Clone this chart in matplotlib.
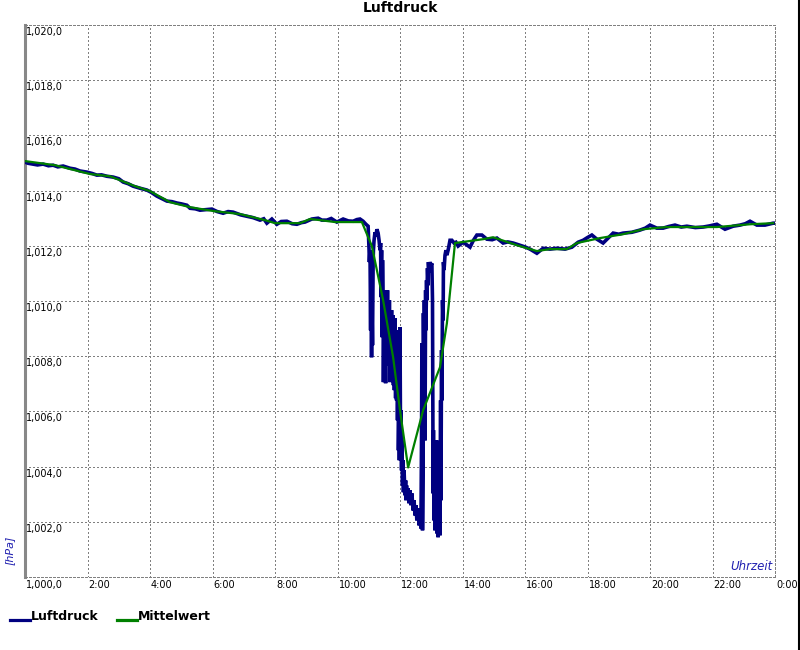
import matplotlib
matplotlib.use("Agg")
import matplotlib.pyplot as plt
import matplotlib.transforms as mtransforms
from matplotlib.lines import Line2D

# ---------------------------------------------------------------------
# data (hours since midnight, hPa)
# ---------------------------------------------------------------------
# morning, fairly calm
luft_t_am = [0.00, 0.10, 0.26, 0.40, 0.58, 0.75, 0.90, 1.05, 1.22, 1.44, 1.60, 1.76,
             1.98, 2.15, 2.30, 2.45, 2.62, 2.82, 3.00, 3.14, 3.30, 3.46, 3.70, 3.90,
             4.05, 4.22, 4.40, 4.54, 4.70, 4.86, 5.00, 5.18, 5.28, 5.45, 5.60, 5.80,
             5.98, 6.15, 6.34, 6.50, 6.66, 6.90, 7.10, 7.30, 7.52, 7.64, 7.74, 7.90,
             8.06, 8.20, 8.38, 8.55, 8.70, 8.85, 8.96, 9.18, 9.38, 9.50, 9.66, 9.80,
             9.98, 10.18, 10.35, 10.50, 10.62, 10.72, 10.82, 10.91]
luft_p_am = [1015.03, 1014.99, 1014.96, 1014.93, 1014.96, 1014.90, 1014.92, 1014.86,
             1014.89, 1014.81, 1014.78, 1014.71, 1014.67, 1014.62, 1014.56, 1014.57,
             1014.52, 1014.49, 1014.43, 1014.31, 1014.25, 1014.16, 1014.08, 1014.02,
             1013.93, 1013.80, 1013.70, 1013.62, 1013.60, 1013.55, 1013.52, 1013.47,
             1013.36, 1013.34, 1013.29, 1013.31, 1013.33, 1013.24, 1013.18, 1013.24,
             1013.22, 1013.12, 1013.07, 1013.02, 1012.93, 1012.98, 1012.82, 1012.97,
             1012.78, 1012.88, 1012.89, 1012.80, 1012.78, 1012.84, 1012.86, 1012.97,
             1013.00, 1012.93, 1012.93, 1012.99, 1012.86, 1012.97, 1012.90, 1012.89,
             1012.95, 1012.97, 1012.89, 1012.78]

# the storm dip around noon
luft_t_dip = [10.98, 11.01, 11.02, 11.04, 11.06, 11.07, 11.09, 11.10, 11.12, 11.14,
              11.15, 11.17, 11.20, 11.23, 11.26, 11.30, 11.33, 11.36, 11.38, 11.39,
              11.41, 11.42, 11.44, 11.46, 11.47, 11.49, 11.50, 11.52, 11.54, 11.55,
              11.57, 11.58, 11.60, 11.62, 11.63, 11.65, 11.66, 11.68, 11.70, 11.71,
              11.73, 11.74, 11.76, 11.78, 11.79, 11.81, 11.82, 11.84, 11.86, 11.87,
              11.89, 11.90, 11.92, 11.94, 11.95, 11.97, 11.98, 12.00, 12.02, 12.03,
              12.05, 12.06, 12.08, 12.10, 12.11, 12.13, 12.16, 12.18, 12.19, 12.21,
              12.22, 12.26, 12.29, 12.32, 12.35, 12.38, 12.42, 12.45, 12.48, 12.51,
              12.54, 12.58, 12.61, 12.64, 12.67, 12.69, 12.70, 12.72, 12.74, 12.75,
              12.77, 12.78, 12.80, 12.82, 12.83, 12.85, 12.86, 12.88, 12.90, 12.91,
              12.93, 12.96, 12.99, 13.02, 13.04, 13.06, 13.07, 13.09, 13.10, 13.12,
              13.14, 13.15, 13.17, 13.18, 13.20, 13.22, 13.23, 13.25, 13.26, 13.28,
              13.30, 13.31, 13.33, 13.34, 13.36, 13.38, 13.39, 13.41, 13.44, 13.47,
              13.50, 13.54, 13.57, 13.60, 13.66, 13.73, 13.79, 13.86]
luft_p_dip = [1012.71, 1011.84, 1011.41, 1011.84, 1008.94, 1011.41, 1007.96, 1010.03,
              1008.40, 1011.41, 1011.84, 1012.20, 1012.49, 1012.35, 1012.60, 1012.46,
              1012.20, 1011.84, 1012.10, 1010.14, 1011.84, 1008.69, 1011.48, 1010.03,
              1007.06, 1010.03, 1007.49, 1010.39, 1007.02, 1010.03, 1010.28, 1008.58,
              1010.39, 1007.67, 1009.85, 1008.58, 1010.03, 1007.06, 1009.30, 1007.85,
              1009.67, 1007.13, 1008.94, 1009.49, 1006.95, 1008.94, 1006.77, 1009.38,
              1006.48, 1008.40, 1006.40, 1008.94, 1005.68, 1008.22, 1004.59, 1006.40,
              1004.23, 1009.05, 1004.34, 1006.04, 1003.86, 1004.95, 1003.32, 1004.23,
              1003.07, 1003.86, 1002.96, 1003.50, 1002.78, 1003.32, 1002.89, 1003.21,
              1002.67, 1003.14, 1002.60, 1003.03, 1002.41, 1002.78, 1002.23, 1002.60,
              1002.05, 1002.49, 1001.87, 1002.23, 1001.76, 1005.32, 1008.47, 1001.69,
              1003.86, 1009.56, 1005.68, 1010.03, 1004.95, 1010.39, 1008.94, 1010.75,
              1010.03, 1011.19, 1010.57, 1011.41, 1011.04, 1011.41, 1011.30, 1011.37,
              1010.03, 1003.03, 1005.32, 1002.05, 1004.59, 1001.69, 1003.86, 1002.41,
              1004.95, 1001.58, 1003.86, 1001.44, 1004.59, 1002.05, 1003.50, 1001.51,
              1006.40, 1002.78, 1008.22, 1006.40, 1010.03, 1009.30, 1011.41, 1011.12,
              1011.66, 1011.84, 1011.66, 1011.84, 1012.02, 1012.20, 1012.20, 1012.10,
              1012.13, 1011.99]

# afternoon / evening
luft_t_pm = [14.02, 14.12, 14.24, 14.35, 14.46, 14.62, 14.78, 14.95, 15.10, 15.30,
             15.45, 15.62, 15.84, 16.00, 16.16, 16.38, 16.58, 16.80, 17.02, 17.28,
             17.50, 17.70, 17.86, 18.00, 18.14, 18.30, 18.50, 18.66, 18.82, 19.00,
             19.14, 19.42, 19.68, 19.85, 20.00, 20.22, 20.42, 20.60, 20.80, 21.00,
             21.18, 21.45, 21.70, 21.90, 22.14, 22.40, 22.66, 22.88, 23.05, 23.20,
             23.42, 23.68, 23.94, 24.00]
luft_p_pm = [1012.13, 1012.05, 1011.95, 1012.20, 1012.39, 1012.39, 1012.24, 1012.22,
             1012.28, 1012.10, 1012.14, 1012.10, 1012.02, 1011.96, 1011.88, 1011.73,
             1011.91, 1011.88, 1011.91, 1011.88, 1011.95, 1012.13, 1012.20, 1012.30,
             1012.39, 1012.24, 1012.10, 1012.28, 1012.46, 1012.42, 1012.46, 1012.49,
             1012.57, 1012.64, 1012.75, 1012.64, 1012.64, 1012.70, 1012.75, 1012.68,
             1012.71, 1012.66, 1012.68, 1012.72, 1012.78, 1012.60, 1012.71, 1012.75,
             1012.80, 1012.89, 1012.75, 1012.75, 1012.82, 1012.82]

luft_t = luft_t_am + luft_t_dip + luft_t_pm
luft_p = luft_p_am + luft_p_dip + luft_p_pm

mittel_t = [0.00, 0.96, 2.08, 2.72, 3.52, 4.00, 4.64, 5.28, 6.02, 6.88, 7.68, 8.00,
            8.80, 9.12, 9.44, 9.92, 10.78, 11.10, 11.46, 11.78, 12.00, 12.26, 12.74,
            13.28, 13.50, 13.76, 14.66, 14.98, 15.74, 16.38, 16.80, 17.34, 17.66,
            18.40, 19.14, 19.78, 20.54, 22.14, 23.20, 23.94]
mittel_p = [1015.07, 1014.92, 1014.60, 1014.52, 1014.16, 1013.98, 1013.58, 1013.40,
            1013.26, 1013.15, 1012.93, 1012.82, 1012.82, 1012.97, 1012.93, 1012.86,
            1012.86, 1011.99, 1010.03, 1007.96, 1006.04, 1003.97, 1006.04, 1007.60,
            1009.19, 1012.10, 1012.24, 1012.31, 1012.02, 1011.81, 1011.88, 1011.88,
            1012.10, 1012.28, 1012.42, 1012.60, 1012.68, 1012.68, 1012.78, 1012.82]

x_ticks = [0, 2, 4, 6, 8, 10, 12, 14, 16, 18, 20, 22, 24]
x_labels = ["", "2:00", "4:00", "6:00", "8:00", "10:00", "12:00", "14:00",
            "16:00", "18:00", "20:00", "22:00", "0:00"]
y_ticks = [1000, 1002, 1004, 1006, 1008, 1010, 1012, 1014, 1016, 1018, 1020]

BLUE = "#000080"
GREEN = "#008000"
GRID = "#808080"
DOTS = (0, (1, 2))

# ---------------------------------------------------------------------
# figure
# ---------------------------------------------------------------------
fig = plt.figure(figsize=(8, 6.5), dpi=100)
ax = fig.add_axes([25 / 800, 73 / 650, 750 / 800, 552 / 650])

ax.plot(luft_t, luft_p, color=BLUE, lw=2.6, solid_joinstyle="miter", zorder=3)
ax.plot(mittel_t, mittel_p, color=GREEN, lw=1.6, zorder=4)

ax.set_xlim(0, 24)
ax.set_ylim(1000, 1020)
ax.set_xticks(x_ticks)
ax.set_yticks(y_ticks)
ax.tick_params(length=0, labelbottom=False, labelleft=False)
ax.grid(True, color=GRID, lw=0.9, linestyle=DOTS, antialiased=False)

for s in ["top", "right", "bottom"]:
    ax.spines[s].set_color(GRID)
    ax.spines[s].set_linewidth(0.9)
    ax.spines[s].set_linestyle(DOTS)
    ax.spines[s].set_antialiased(False)
ax.spines["left"].set_color("#888888")
ax.spines["left"].set_linewidth(2.2)

# y labels inside the plot, just below each grid line
for v in y_ticks:
    lab = f"{v:,.1f}".replace(".", ",")
    off = -2 if v != 1000 else -3
    tr = mtransforms.offset_copy(ax.get_yaxis_transform(), fig=fig, x=1, y=off, units="dots")
    ax.text(0, v, lab, transform=tr, ha="left", va="top", fontsize=7, color="black")

# x labels below the axis
xtr = mtransforms.offset_copy(ax.get_xaxis_transform(), fig=fig, x=1, y=-3, units="dots")
for t, lab in zip(x_ticks, x_labels):
    if lab:
        ax.text(t, 0, lab, transform=xtr, ha="left", va="top", fontsize=7,
                color="black", clip_on=False)

ax.text(0.997, 0.008, "Uhrzeit", transform=ax.transAxes, ha="right", va="bottom",
        fontsize=8.5, style="italic", color="#2020b0")
fig.text(10 / 800, 1 - 550 / 650, "[hPa]", rotation=90, ha="center", va="center",
         fontsize=8, style="italic", color="#2020b0")

fig.text(0.5, 1 - 8 / 650, "Luftdruck", ha="center", va="center",
         fontsize=10, fontweight="bold")

# legend below the plot
fig.add_artist(Line2D([10 / 800, 30 / 800], [1 - 620 / 650] * 2, color=BLUE, lw=2.3))
fig.text(31 / 800, 1 - 617 / 650, "Luftdruck", ha="left", va="center",
         fontsize=9, fontweight="bold")
fig.add_artist(Line2D([117 / 800, 137 / 800], [1 - 620 / 650] * 2, color=GREEN, lw=2.3))
fig.text(138 / 800, 1 - 617 / 650, "Mittelwert", ha="left", va="center",
         fontsize=9, fontweight="bold")

# black frame edge on the right
fig.add_artist(Line2D([799 / 800, 799 / 800], [0, 1], color="black", lw=1.5))

fig.savefig("out.png", dpi=100)
